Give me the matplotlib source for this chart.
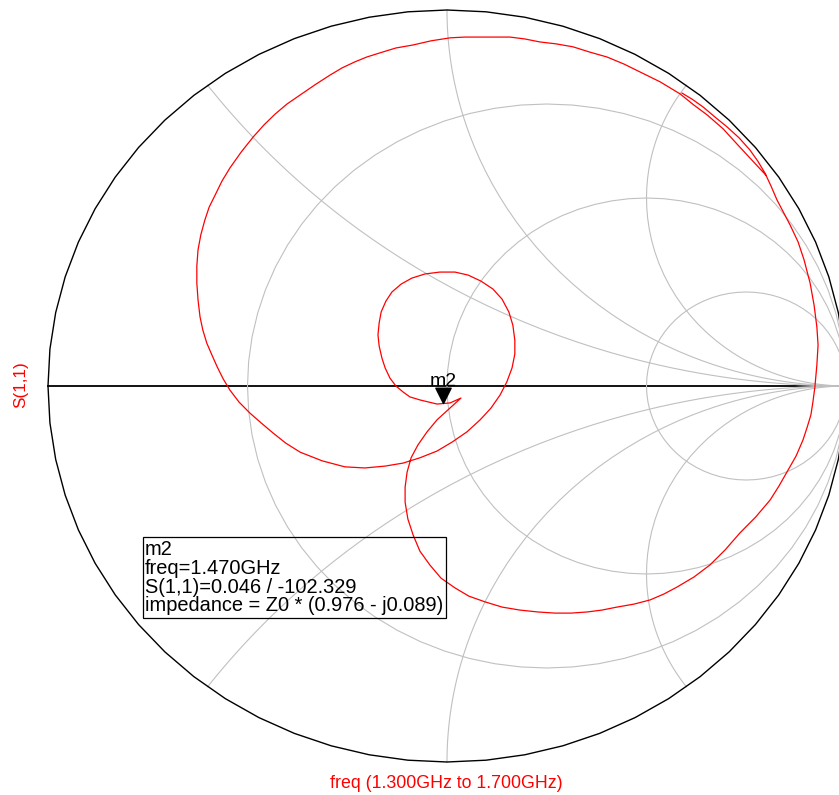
import numpy as np
import matplotlib.pyplot as plt
from matplotlib.path import Path
from matplotlib.patches import Rectangle

plt.rcParams['font.family'] = ['Liberation Sans', 'DejaVu Sans']

# S(1,1) over the sweep 1.300GHz -> 1.700GHz, reflection coefficient (re, im)
s11_re = [0.589, 0.614, 0.642, 0.672, 0.702, 0.732, 0.759, 0.779, 0.797, 0.812,
          0.827, 0.860, 0.880, 0.895, 0.910, 0.920, 0.927, 0.930, 0.927, 0.922,
          0.917, 0.912, 0.902, 0.892, 0.875, 0.852, 0.832, 0.810, 0.774, 0.734,
          0.697, 0.659, 0.619, 0.576, 0.544, 0.509, 0.469, 0.426, 0.388, 0.351,
          0.311, 0.271, 0.228, 0.183, 0.138, 0.095, 0.055, 0.020, -0.015, -0.043,
          -0.068, -0.085, -0.098, -0.105, -0.105, -0.100, -0.090, -0.073, -0.050, -0.025,
          0.005, 0.035, 0.008, -0.025, -0.068, -0.093, -0.110, -0.128, -0.143, -0.155,
          -0.163, -0.170, -0.173, -0.170, -0.165, -0.153, -0.138, -0.115, -0.088, -0.055,
          -0.018, 0.020, 0.053, 0.085, 0.115, 0.138, 0.155, 0.165, 0.170, 0.170,
          0.163, 0.150, 0.133, 0.110, 0.083, 0.050, 0.013, -0.025, -0.068, -0.110,
          -0.155, -0.206, -0.256, -0.313, -0.368, -0.404, -0.436, -0.466, -0.494, -0.521,
          -0.544, -0.561, -0.576, -0.589, -0.602, -0.612, -0.619, -0.624, -0.627, -0.627,
          -0.624, -0.617, -0.607, -0.596, -0.581, -0.564, -0.544, -0.516, -0.486, -0.459,
          -0.431, -0.401, -0.368, -0.331, -0.293, -0.263, -0.231, -0.201, -0.168, -0.128,
          -0.085, -0.040, 0.008, 0.045, 0.083, 0.120, 0.158, 0.195, 0.233, 0.273,
          0.316, 0.358, 0.401, 0.444, 0.484, 0.534, 0.584, 0.619, 0.652, 0.692,
          0.729, 0.764, 0.799]
s11_im = [0.779, 0.763, 0.742, 0.715, 0.689, 0.660, 0.628, 0.598, 0.566, 0.532,
          0.495, 0.428, 0.383, 0.335, 0.274, 0.215, 0.157, 0.109, 0.056, -0.003,
          -0.043, -0.077, -0.112, -0.144, -0.186, -0.229, -0.266, -0.303, -0.348, -0.391,
          -0.436, -0.476, -0.508, -0.535, -0.553, -0.569, -0.580, -0.588, -0.596, -0.601,
          -0.604, -0.604, -0.601, -0.596, -0.588, -0.574, -0.559, -0.537, -0.511, -0.476,
          -0.439, -0.396, -0.354, -0.309, -0.269, -0.229, -0.191, -0.157, -0.122, -0.090,
          -0.061, -0.032, -0.045, -0.048, -0.037, -0.029, -0.016, 0.000, 0.021, 0.048,
          0.074, 0.106, 0.136, 0.168, 0.197, 0.226, 0.250, 0.271, 0.287, 0.298,
          0.303, 0.303, 0.295, 0.279, 0.258, 0.231, 0.197, 0.162, 0.122, 0.085,
          0.048, 0.011, -0.024, -0.059, -0.090, -0.122, -0.149, -0.173, -0.191, -0.205,
          -0.213, -0.218, -0.215, -0.199, -0.176, -0.152, -0.125, -0.098, -0.072, -0.043,
          -0.011, 0.019, 0.051, 0.082, 0.114, 0.149, 0.184, 0.229, 0.274, 0.319,
          0.362, 0.402, 0.441, 0.476, 0.508, 0.545, 0.580, 0.622, 0.662, 0.694,
          0.723, 0.750, 0.774, 0.801, 0.827, 0.846, 0.862, 0.875, 0.886, 0.899,
          0.907, 0.918, 0.926, 0.928, 0.928, 0.928, 0.928, 0.923, 0.915, 0.910,
          0.902, 0.888, 0.875, 0.856, 0.835, 0.809, 0.777, 0.747, 0.721, 0.684,
          0.641, 0.601, 0.561]

# marker m2
m2_freq = 1.470      # GHz
m2_mag = 0.046
m2_ang = -102.329    # deg
m2_imp = (0.976, -0.089)

# smith chart grid
r_circles = [1 / 3, 1, 3]
x_arcs = [0.5, 1, 2]

GRID = '#c0c0c0'
RED = '#ff0000'

fig = plt.figure(figsize=(8.39, 7.95), dpi=100)
ax = fig.add_axes([0, 0, 1, 1])
ax.set_xlim(-447 / 399, 392 / 399)
ax.set_ylim(-409 / 376, 386 / 376)
ax.axis('off')

# outer circle and real axis
t = np.linspace(0, 2 * np.pi, 65)
ax.plot(np.cos(t), np.sin(t), color='black', lw=1.0, zorder=2)
ax.plot([-1, 1], [0, 0], color='black', lw=1.3, zorder=1)

# constant resistance circles
tc = np.linspace(0, 2 * np.pi, 73)
for r in r_circles:
    c, rad = r / (1 + r), 1 / (1 + r)
    ax.plot(c + rad * np.cos(tc), rad * np.sin(tc), color=GRID, lw=0.8, zorder=1.5)

# constant reactance arcs
rr = np.concatenate([[0], np.logspace(-2.5, 3, 120)])
for x in x_arcs:
    for sgn in (1, -1):
        g = (rr + 1j * sgn * x - 1) / (rr + 1j * sgn * x + 1)
        ax.plot(g.real, g.imag, color=GRID, lw=0.8, zorder=1.5)

# trace
ax.plot(s11_re, s11_im, color=RED, lw=0.9, zorder=3)

# marker m2 (tip of the triangle sits on the point)
tri = Path([(-0.5, 1), (0.5, 1), (0, 0), (-0.5, 1)],
           [Path.MOVETO, Path.LINETO, Path.LINETO, Path.CLOSEPOLY])
g2 = m2_mag * np.exp(1j * np.deg2rad(m2_ang))
ax.plot(g2.real, g2.imag, marker=tri, ms=22, color='black', ls='none', zorder=4)
ax.annotate('m2', (g2.real, g2.imag), xytext=(0, 17), textcoords='offset pixels',
            ha='center', va='baseline', fontsize=14, zorder=4)

# marker readout box
W, H = 839, 795
fig.add_artist(Rectangle((143 / W, 1 - 618 / H), 303 / W, 81 / H, transform=fig.transFigure,
                         fill=False, edgecolor='black', lw=0.9))
lines = ['m2',
         'freq=%.3fGHz' % m2_freq,
         'S(1,1)=%.3f / %.3f' % (m2_mag, m2_ang),
         'impedance = Z0 * (%.3f - j%.3f)' % (m2_imp[0], -m2_imp[1])]
for i, s in enumerate(lines):
    fig.text(145 / W, 1 - (555 + 18.8 * i) / H, s, fontsize=14.4, va='baseline', ha='left')

# axis titles
fig.text(21 / W, 1 - 385 / H, 'S(1,1)', color=RED, fontsize=12.3, rotation=90,
         ha='center', va='center')
fig.text(446 / W, 1 - 783 / H, 'freq (1.300GHz to 1.700GHz)', color=RED, fontsize=12.8,
         ha='center', va='center')

fig.savefig('out.png', dpi=100)
